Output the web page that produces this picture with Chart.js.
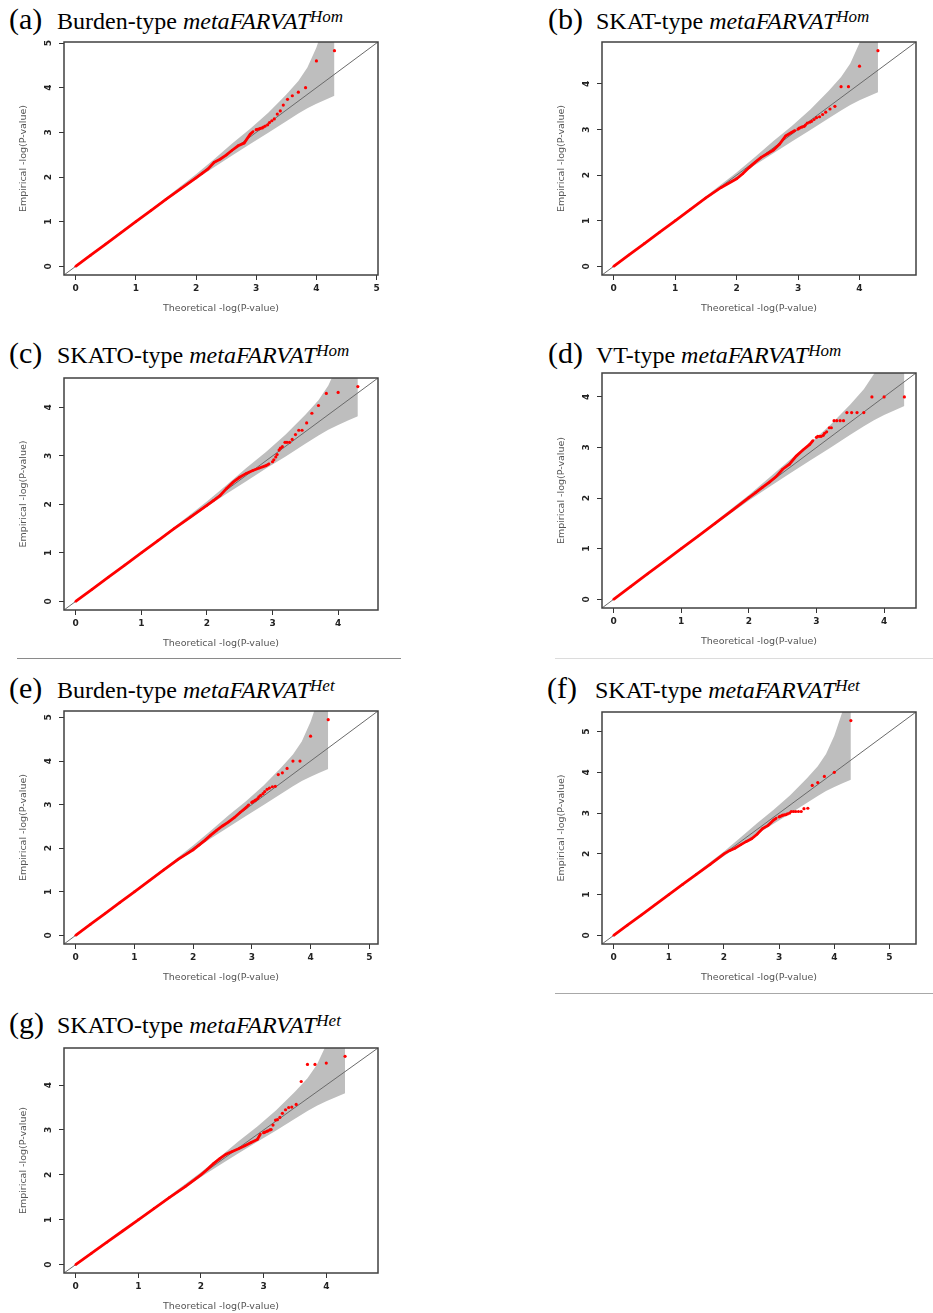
<!DOCTYPE html>
<html>
<head>
<meta charset="utf-8">
<script src="https://cdn.jsdelivr.net/npm/chart.js@4/dist/chart.umd.min.js"></script>
<style>
  body { margin: 0; background: #fff; width: 933px; height: 1313px; position: relative; overflow: hidden; }
  .title { position: absolute; font-family: "Liberation Serif", "Times New Roman", serif; font-size: 30px; line-height: 30px; white-space: nowrap; color: #000; }
  .title .lt { display: inline-block; width: 48px; }
  .title .tt { font-size: 24px; }
  .title sup { font-size: 17px; position: relative; top: -7.5px; vertical-align: baseline; }
  .rule { position: absolute; height: 0; }
  canvas { position: absolute; }
</style>
</head>
<body>
<script>
// -------------------
// DATA

const panelLetters = ["(a)", "(b)", "(c)", "(d)", "(e)", "(f)", "(g)"];
const panelTests = ["Burden-type", "SKAT-type", "SKATO-type", "VT-type", "Burden-type", "SKAT-type", "SKATO-type"];
const panelModels = ["Hom", "Hom", "Hom", "Hom", "Het", "Het", "Het"];

// theoretical -log10(p) of the dense body and of the top 20 order statistics
const theoBody = [0, 0.25, 0.5, 0.75, 1, 1.25, 1.5, 1.75, 2, 2.1, 2.2, 2.3, 2.4, 2.5, 2.6, 2.7, 2.8, 2.9, 2.95];
const theoTail = [3.0, 3.02, 3.05, 3.07, 3.10, 3.12, 3.15, 3.19, 3.22, 3.26, 3.30, 3.35, 3.40, 3.45, 3.52, 3.60, 3.70, 3.82, 4.00, 4.30];

// empirical -log10(p)
const bodyA = [0, 0.25, 0.5, 0.75, 1, 1.25, 1.5, 1.74, 1.98, 2.08, 2.18, 2.33, 2.40, 2.49, 2.60, 2.70, 2.76, 2.96, 3.02];
const tailA = [3.06, 3.07, 3.08, 3.09, 3.10, 3.12, 3.14, 3.17, 3.22, 3.26, 3.30, 3.41, 3.48, 3.61, 3.74, 3.82, 3.90, 4.00, 4.60, 4.83];

const bodyB = [0, 0.25, 0.5, 0.75, 1, 1.25, 1.5, 1.73, 1.92, 2.03, 2.16, 2.28, 2.39, 2.47, 2.55, 2.68, 2.86, 2.94, 2.98];
const tailB = [3.01, 3.03, 3.05, 3.06, 3.07, 3.10, 3.14, 3.16, 3.18, 3.22, 3.26, 3.28, 3.33, 3.38, 3.45, 3.51, 3.94, 3.94, 4.39, 4.73];

const bodyC = [0, 0.25, 0.5, 0.75, 1, 1.25, 1.5, 1.74, 1.98, 2.08, 2.18, 2.33, 2.46, 2.56, 2.64, 2.70, 2.75, 2.80, 2.84];
const tailC = [2.88, 2.92, 2.98, 3.03, 3.12, 3.16, 3.19, 3.28, 3.28, 3.28, 3.34, 3.44, 3.53, 3.53, 3.68, 3.88, 4.04, 4.29, 4.31, 4.43];

const bodyD = [0, 0.25, 0.5, 0.75, 1, 1.25, 1.5, 1.75, 2.01, 2.11, 2.21, 2.31, 2.42, 2.57, 2.67, 2.83, 2.95, 3.06, 3.14];
const tailD = [3.20, 3.22, 3.22, 3.22, 3.24, 3.28, 3.31, 3.39, 3.39, 3.53, 3.53, 3.53, 3.53, 3.69, 3.69, 3.69, 3.69, 4.00, 4.00, 4.00];

const bodyE = [0, 0.25, 0.5, 0.75, 1, 1.25, 1.5, 1.75, 1.96, 2.07, 2.18, 2.30, 2.41, 2.51, 2.60, 2.70, 2.82, 2.93, 3.00];
const tailE = [3.05, 3.07, 3.09, 3.11, 3.14, 3.18, 3.21, 3.25, 3.30, 3.35, 3.38, 3.41, 3.42, 3.69, 3.73, 3.83, 4.00, 4.00, 4.57, 4.95];

const bodyF = [0, 0.25, 0.5, 0.75, 1, 1.25, 1.5, 1.74, 2.00, 2.08, 2.14, 2.22, 2.30, 2.37, 2.48, 2.62, 2.70, 2.83, 2.88];
const tailF = [2.91, 2.92, 2.94, 2.95, 2.96, 2.96, 2.98, 3.00, 3.04, 3.04, 3.04, 3.04, 3.04, 3.11, 3.12, 3.68, 3.75, 3.90, 4.00, 5.27];

const bodyG = [0, 0.25, 0.5, 0.75, 1, 1.25, 1.5, 1.74, 2.00, 2.12, 2.25, 2.36, 2.46, 2.52, 2.58, 2.65, 2.72, 2.79, 2.91];
const tailG = [2.94, 2.95, 2.97, 2.98, 3.00, 3.01, 3.11, 3.22, 3.23, 3.28, 3.37, 3.45, 3.50, 3.51, 3.57, 4.08, 4.46, 4.46, 4.49, 4.64];

// grey confidence band (same for every panel)
const bandTheo = [1.0, 1.3, 1.6, 2.0, 2.3, 2.6, 2.9, 3.2, 3.5, 3.7, 3.85, 4.0, 4.15, 4.3];
const bandLow = [0.985, 1.28, 1.57, 1.95, 2.22, 2.48, 2.74, 2.99, 3.25, 3.42, 3.54, 3.64, 3.73, 3.82];
const bandHigh = [1.015, 1.32, 1.64, 2.06, 2.40, 2.75, 3.08, 3.44, 3.85, 4.15, 4.45, 4.90, 5.50, 6.20];

const bodies = [bodyA, bodyB, bodyC, bodyD, bodyE, bodyF, bodyG];
const tails = [tailA, tailB, tailC, tailD, tailE, tailF, tailG];

// -------------------
// LAYOUT (page pixels of each plot box)

const boxes = [
  { l: 64, t: 42, r: 378, b: 275 },
  { l: 602, t: 42, r: 916, b: 275 },
  { l: 64, t: 378, r: 378, b: 610 },
  { l: 602, t: 373, r: 916, b: 608 },
  { l: 64, t: 711, r: 378, b: 944 },
  { l: 602, t: 712, r: 916, b: 944 },
  { l: 64, t: 1048, r: 378, b: 1273 },
];
const titleBase = [29, 29, 363, 363, 698, 698, 1033];
const titleLeft = [9, 548, 9, 548, 9, 547, 9];

const rules = [
  { x1: 17, x2: 401, y: 658, c: "#8a8a8a" },
  { x1: 555, x2: 933, y: 658, c: "#dcdcdc" },
  { x1: 555, x2: 933, y: 993, c: "#a8a8a8" },
];

const ML = 64, MT = 6, MR = 4, MB = 48;

Chart.defaults.font.family = "'DejaVu Sans', sans-serif";

rules.forEach(r => {
  const d = document.createElement("div");
  d.className = "rule";
  d.style.left = r.x1 + "px";
  d.style.top = r.y + "px";
  d.style.width = r.x2 - r.x1 + "px";
  d.style.borderTop = "1px solid " + r.c;
  document.body.appendChild(d);
});

// box around the plot + rotated y tick labels (R style)
const rBoxPlugin = {
  id: "rbox",
  afterDatasetsDraw(chart) {
    const { ctx, chartArea: a } = chart;
    ctx.save();
    ctx.strokeStyle = "#404040";
    ctx.lineWidth = 1.5;
    ctx.strokeRect(a.left, a.top, a.right - a.left, a.bottom - a.top);
    ctx.restore();
  },
  afterDraw(chart) {
    const { ctx, chartArea: a } = chart;
    const y = chart.scales.y;
    ctx.save();
    ctx.fillStyle = "#222";
    ctx.font = "bold 9px 'DejaVu Sans', sans-serif";
    ctx.textAlign = "center";
    ctx.textBaseline = "middle";
    y.ticks.forEach(t => {
      ctx.save();
      ctx.translate(a.left - 15, y.getPixelForValue(t.value));
      ctx.rotate(-Math.PI / 2);
      ctx.fillText(String(t.value), 0, 0);
      ctx.restore();
    });
    ctx.restore();
  },
};

function pts(xs, ys) {
  return xs.map((x, k) => ({ x: x, y: ys[k] }));
}

function makePanel(i) {
  const box = boxes[i];

  const title = document.createElement("div");
  title.className = "title";
  title.style.left = titleLeft[i] + "px";
  title.style.top = titleBase[i] - 25 + "px";
  title.innerHTML =
    '<span class="lt">' + panelLetters[i] + '</span><span class="tt">' + panelTests[i] +
    " <i>metaFARVAT<sup>" + panelModels[i] + "</sup></i></span>";
  document.body.appendChild(title);

  const w = box.r - box.l + ML + MR;
  const h = box.b - box.t + MT + MB;
  const cv = document.createElement("canvas");
  cv.width = w;
  cv.height = h;
  cv.style.left = box.l - ML + "px";
  cv.style.top = box.t - MT + "px";
  cv.style.width = w + "px";
  cv.style.height = h + "px";
  document.body.appendChild(cv);

  // R-like range: 0..max extended by 4% on both sides
  const top = Math.max(4.3, ...tails[i]);
  const lo = -0.04 * top, hi = 1.04 * top;

  new Chart(cv, {
    type: "line",
    data: {
      datasets: [
        {
          data: pts(theoTail, tails[i]),
          showLine: false,
          pointRadius: 1.6,
          pointBorderWidth: 0,
          pointBackgroundColor: "#ff0000",
        },
        {
          data: pts(theoBody, bodies[i]),
          borderColor: "#ff0000",
          borderWidth: 2.8,
          pointRadius: 1.2,
          pointBorderWidth: 0,
          pointBackgroundColor: "#ff0000",
          tension: 0,
        },
        {
          data: [{ x: -1, y: -1 }, { x: 8, y: 8 }],
          borderColor: "#6a6a6a",
          borderWidth: 1,
          pointRadius: 0,
        },
        {
          data: pts(bandTheo, bandHigh),
          borderWidth: 0,
          pointRadius: 0,
          backgroundColor: "#bebebe",
          fill: "+1",
        },
        {
          data: pts(bandTheo, bandLow),
          borderWidth: 0,
          pointRadius: 0,
          fill: false,
        },
      ],
    },
    options: {
      responsive: false,
      animation: false,
      events: [],
      layout: { padding: { left: 0, top: MT, right: MR, bottom: 0 } },
      plugins: { legend: { display: false }, tooltip: { enabled: false } },
      scales: {
        x: {
          type: "linear",
          min: lo,
          max: hi,
          border: { display: false },
          grid: { drawOnChartArea: false, drawTicks: true, tickLength: 5, color: "#333" },
          ticks: {
            stepSize: 1,
            includeBounds: false,
            autoSkip: false,
            maxRotation: 0,
            padding: 3,
            color: "#222",
            font: { size: 9, weight: "bold" },
          },
          title: {
            display: true,
            text: "Theoretical -log(P-value)",
            color: "#555",
            font: { size: 9.5 },
            padding: { top: 0, bottom: 9 },
          },
          afterFit: s => {
            s.height = MB;
            s.paddingLeft = 0;
            s.paddingRight = 0;
          },
        },
        y: {
          type: "linear",
          min: lo,
          max: hi,
          border: { display: false },
          grid: { drawOnChartArea: false, drawTicks: true, tickLength: 5, color: "#333" },
          ticks: { stepSize: 1, includeBounds: false, display: false },
          title: {
            display: true,
            text: "Empirical -log(P-value)",
            color: "#555",
            font: { size: 9.5 },
            padding: { top: 18, bottom: 0 },
          },
          afterFit: s => {
            s.width = ML;
            s.paddingTop = 0;
            s.paddingBottom = 0;
          },
        },
      },
    },
    plugins: [rBoxPlugin],
  });
}

for (let i = 0; i < 7; i++) makePanel(i);
</script>
</body>
</html>
